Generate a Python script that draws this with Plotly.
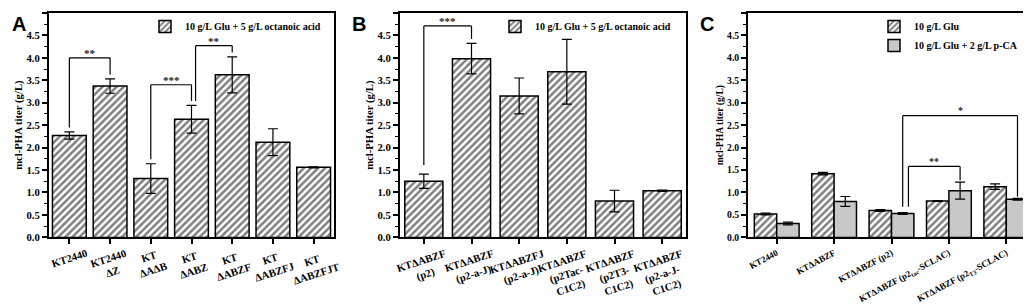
import plotly.graph_objects as go

# ---------------- data ----------------
a_labels = ["KT2440", "KT2440<br>ΔZ", "KT<br>ΔAΔB", "KT<br>ΔABZ", "KT<br>ΔABZF", "KT<br>ΔABZFJ", "KT<br>ΔABZFJT"]
a_values = [2.27, 3.37, 1.31, 2.63, 3.62, 2.12, 1.56]
a_errors = [0.08, 0.16, 0.33, 0.31, 0.40, 0.30, 0.01]

b_labels = ["KTΔABZF<br>(p2)", "KTΔABZF<br>(p2-a-J)", "KTΔABZFJ<br>(p2-a-J)", "KTΔABZF<br>(p2Tac-<br>C1C2)",
            "KTΔABZF<br>(p2T3-<br>C1C2)", "KTΔABZF<br>(p2-a-J-<br>C1C2)"]
b_values = [1.25, 3.98, 3.15, 3.69, 0.81, 1.04]
b_errors = [0.16, 0.34, 0.40, 0.72, 0.24, 0.015]

ab_series = "10 g/L Glu + 5 g/L octanoic acid"

c_labels = ["KT2440", "KTΔABZF", "KTΔABZF (p2)", "KTΔABZF (p2<sub>tac</sub>-SCLAC)", "KTΔABZF (p2<sub>T3</sub>-SCLAC)"]
c_series = ["10 g/L Glu", "10 g/L Glu + 2 g/L p-CA"]
c_glu = [0.52, 1.42, 0.60, 0.81, 1.13]
c_glu_err = [0.02, 0.03, 0.02, 0.01, 0.06]
c_pca = [0.31, 0.80, 0.53, 1.04, 0.85]
c_pca_err = [0.03, 0.11, 0.02, 0.19, 0.02]

# significance brackets: (left index, right index, level, label)
a_brackets = [(0, 1, 4.00, "**"), (2, 3, 3.40, "***"), (3, 4, 4.27, "**")]
b_brackets = [(0, 1, 4.71, "***")]
# panel C: ((group, series), (group, series), level, label)
c_brackets = [((2, 1), (4, 1), 2.71, "*"), ((2, 1), (3, 1), 1.58, "**")]

# ---------------- style ----------------
W, H = 1031, 304
SERIF = "Liberation Serif"
BLACK = "black"
GRAY = "#c8c8c8"
C_BARGAP = 0.22


def px_x(p):
    return p / W


def px_y(p):
    return 1 - p / H


y_dom = [px_y(234), px_y(5)]
doms = [[px_x(41), px_x(326)], [px_x(392), px_x(678)], [px_x(740), px_x(1027)]]

hatch = dict(shape="/", fgcolor=BLACK, bgcolor="white", size=5, solidity=0.5)

fig = go.Figure()

fig.add_trace(go.Bar(
    x=list(range(len(a_values))), y=a_values, width=0.83, name=ab_series,
    marker=dict(color="white", line=dict(color=BLACK, width=1.5), pattern=hatch),
    error_y=dict(type="data", array=a_errors, color=BLACK, thickness=1.2, width=5),
    xaxis="x", yaxis="y", legend="legend"))

fig.add_trace(go.Bar(
    x=list(range(len(b_values))), y=b_values, width=0.80, name=ab_series,
    marker=dict(color="white", line=dict(color=BLACK, width=1.5), pattern=hatch),
    error_y=dict(type="data", array=b_errors, color=BLACK, thickness=1.2, width=5),
    xaxis="x2", yaxis="y2", legend="legend2"))

fig.add_trace(go.Bar(
    x=list(range(len(c_glu))), y=c_glu, name=c_series[0],
    marker=dict(color="white", line=dict(color=BLACK, width=1.5), pattern=hatch),
    error_y=dict(type="data", array=c_glu_err, color=BLACK, thickness=1.2, width=5),
    xaxis="x3", yaxis="y3", legend="legend3"))
fig.add_trace(go.Bar(
    x=list(range(len(c_pca))), y=c_pca, name=c_series[1],
    marker=dict(color=GRAY, line=dict(color=BLACK, width=1.5)),
    error_y=dict(type="data", array=c_pca_err, color=BLACK, thickness=1.2, width=5),
    xaxis="x3", yaxis="y3", legend="legend3"))

shapes = []
annotations = []


def add_bracket(xref, yref, xl, xr, level, yl_end, yr_end, label, fsize):
    line = dict(color=BLACK, width=1.2)
    for x0, y0, x1, y1 in [(xl, yl_end, xl, level), (xl, level, xr, level), (xr, yr_end, xr, level)]:
        shapes.append(dict(type="line", xref=xref, yref=yref, x0=x0, y0=y0, x1=x1, y1=y1, line=line))
    annotations.append(dict(x=(xl + xr) / 2, y=level, xref=xref, yref=yref, text=label, showarrow=False,
                            yanchor="middle", yshift=5, font=dict(family=SERIF, size=fsize, color="#222", weight="bold")))


GAP = 0.1
for l, r, lev, lab in a_brackets:
    add_bracket("x", "y", l + (0.1 if l == 3 else 0), r, lev,
                a_values[l] + a_errors[l] + GAP, a_values[r] + a_errors[r] + GAP, lab, 11)
for l, r, lev, lab in b_brackets:
    add_bracket("x2", "y2", l, r, lev,
                b_values[l] + b_errors[l] + 0.2, b_values[r] + b_errors[r] + GAP, lab, 11)

c_vals = [c_glu, c_pca]
c_errs = [c_glu_err, c_pca_err]
half = (1 - C_BARGAP) / 4
for k, ((gl, sl), (gr, sr), lev, lab) in enumerate(c_brackets):
    xl = gl + (2 * sl - 1) * half + (0.1 if k == 1 else 0)
    xr = gr + (2 * sr - 1) * half
    add_bracket("x3", "y3", xl, xr, lev,
                c_vals[sl][gl] + c_errs[sl][gl] + 0.13, c_vals[sr][gr] + c_errs[sr][gr] + 0.04, lab, 10)

# rotated category labels for A and B (centered under ticks)
for xref, labels, size in [("x", a_labels, 10.7), ("x2", b_labels, 10.7)]:
    for i, lab in enumerate(labels):
        annotations.append(dict(x=i, y=px_y(241), xref=xref, yref="paper", text=lab, showarrow=False,
                                textangle=-18, xanchor="center", yanchor="top", align="center",
                                font=dict(family=SERIF, size=size, color=BLACK, weight="bold")))

# panel letters
for letter, xp in [("A", 2), ("B", 342), ("C", 690)]:
    annotations.append(dict(x=px_x(xp), y=px_y(3), xref="paper", yref="paper", text=letter, showarrow=False,
                            xanchor="left", yanchor="top",
                            font=dict(family="Liberation Sans", size=20, color=BLACK, weight="bold")))


def yaxis(dom_x, fsize, anchor):
    return dict(domain=y_dom, anchor=anchor, range=[0, 5], dtick=0.5, tickformat=".1f",
                showline=True, linewidth=2, linecolor=BLACK, mirror=True, ticks="outside",
                ticklen=5, tickwidth=1.5, tickcolor=BLACK, showgrid=False, zeroline=False,
                minor=dict(ticks="outside", ticklen=3, dtick=0.25, tickwidth=1, tickcolor=BLACK),
                tickfont=dict(family=SERIF, size=fsize, color=BLACK, weight="bold"),
                title=dict(text="mcl-PHA titer (g/L)", standoff=2,
                           font=dict(family=SERIF, size=fsize, color=BLACK, weight="bold")))


def xaxis(dom, n, anchor, show, labels=None, fsize=10, angle=0):
    d = dict(domain=dom, anchor=anchor, range=[-0.5, n - 0.5], tickvals=list(range(n)),
             showline=True, linewidth=2, linecolor=BLACK, mirror=True, ticks="outside",
             ticklen=5, tickwidth=1.5, tickcolor=BLACK, showgrid=False, zeroline=False,
             showticklabels=show)
    if show:
        d.update(ticktext=labels, tickangle=angle,
                 tickfont=dict(family=SERIF, size=fsize, color=BLACK, weight="bold"))
    return d


legend_common = dict(bgcolor="rgba(0,0,0,0)", borderwidth=0, xanchor="right", yanchor="top",
                     font=dict(family=SERIF, size=10, color=BLACK, weight="bold"), itemwidth=30)

fig.update_layout(
    width=W, height=H, margin=dict(l=0, r=0, t=0, b=0),
    paper_bgcolor="white", plot_bgcolor="white",
    barmode="group", bargap=C_BARGAP, bargroupgap=0,
    xaxis=xaxis(doms[0], len(a_values), "y", False),
    yaxis=yaxis(doms[0], 10.7, "x"),
    xaxis2=xaxis(doms[1], len(b_values), "y2", False),
    yaxis2=yaxis(doms[1], 10.7, "x2"),
    xaxis3=xaxis(doms[2], len(c_glu), "y3", True, c_labels, 9, -28),
    yaxis3=yaxis(doms[2], 9.6, "x3"),
    legend=dict(x=px_x(318), y=px_y(4), **legend_common),
    legend2=dict(x=px_x(668), y=px_y(4), **legend_common),
    legend3=dict(x=px_x(1015), y=px_y(4), **legend_common),
    shapes=shapes, annotations=annotations, showlegend=True,
)

fig.write_html("out.html")
